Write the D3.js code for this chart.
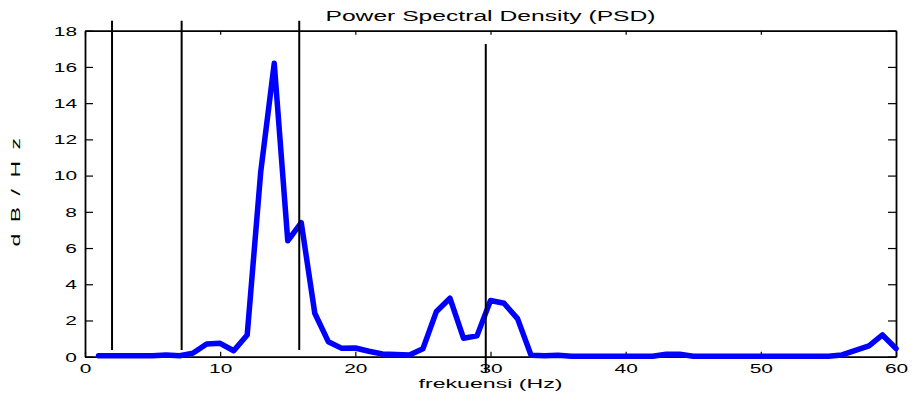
<!DOCTYPE html>
<html>
<head>
<meta charset="utf-8">
<script src="https://cdn.jsdelivr.net/npm/d3@7"></script>
<style>
  html, body { margin: 0; padding: 0; background: #fff; }
  svg { display: block; font-family: "Liberation Sans", Arial, Helvetica, sans-serif; }
</style>
</head>
<body>
<svg id="chart" width="912" height="396"></svg>
<script>
// PSD estimate, one value per 1 Hz bin (1..60 Hz)
const freqs = d3.range(1, 61);
const psd = [
  0.05, 0.05, 0.05, 0.05, 0.05, 0.1, 0.05, 0.2, 0.7, 0.74,
  0.33, 1.2, 10.2, 16.2, 6.4, 7.4, 2.4, 0.83, 0.46, 0.48,
  0.3, 0.15, 0.12, 0.1, 0.44, 2.5, 3.23, 1.02, 1.15, 3.1,
  2.95, 2.1, 0.08, 0.05, 0.08, 0.03, 0.02, 0.02, 0.02, 0.02,
  0.02, 0.03, 0.14, 0.14, 0.03, 0.02, 0.02, 0.02, 0.02, 0.02,
  0.02, 0.02, 0.02, 0.02, 0.03, 0.1, 0.35, 0.6, 1.2, 0.45
];

// Band boundary markers: frequency, lower and upper end (in dB/Hz units)
const markerFreq = [2, 7.15, 15.85, 29.65];
const markerLow  = [0.37, 0.37, 0.37, -0.85];
const markerHigh = [18.55, 18.55, 18.55, 17.26];

const xTicks = [0, 10, 20, 30, 40, 50, 60];
const yTicks = [0, 2, 4, 6, 8, 10, 12, 14, 16, 18];

const titleText = "Power Spectral Density (PSD)";
const xLabelText = "frekuensi (Hz)";
const yLabelText = "d B / H z";

const W = 912, H = 396;
const m = { left: 85, right: 16, top: 30.7, bottom: 39.3 };

const svg = d3.select("#chart");
const x = d3.scaleLinear().domain([0, 60]).range([m.left, W - m.right]);
const y = d3.scaleLinear().domain([0, 18]).range([H - m.bottom, m.top]);

const tickScale = 1.55;
const labelScale = 1.7;

// Axes with inward ticks on all four sides
const gB = svg.append("g").attr("transform", `translate(0,${y(0)})`)
  .call(d3.axisBottom(x).tickValues(xTicks).tickSizeInner(-5).tickSizeOuter(0).tickFormat(d3.format("d")));
gB.selectAll("text")
  .attr("y", 7).attr("dy", "0.71em")
  .attr("transform", `scale(${tickScale},1)`);

const gL = svg.append("g").attr("transform", `translate(${x(0)},0)`)
  .call(d3.axisLeft(y).tickValues(yTicks).tickSizeInner(-8).tickSizeOuter(0).tickFormat(d3.format("d")));
gL.selectAll("text")
  .attr("x", -8 / tickScale)
  .attr("transform", `scale(${tickScale},1)`);

svg.append("g").attr("transform", `translate(0,${y(18)})`)
  .call(d3.axisTop(x).tickValues(xTicks).tickSizeInner(-4).tickSizeOuter(0).tickFormat(""));
svg.append("g").attr("transform", `translate(${x(60)},0)`)
  .call(d3.axisRight(y).tickValues(yTicks).tickSizeInner(-8).tickSizeOuter(0).tickFormat(""));

svg.selectAll(".domain").attr("stroke", "#000").attr("stroke-width", 1.8);
svg.selectAll(".tick line").attr("stroke", "#000").attr("stroke-width", 1.2);
svg.selectAll(".tick text").attr("fill", "#000").attr("font-size", 13.5)
  .attr("font-family", "'Liberation Sans', Arial, sans-serif");

// PSD curve
const line = d3.line().x((d, i) => x(freqs[i])).y(d => y(d));
svg.append("path")
  .datum(psd)
  .attr("d", line)
  .attr("fill", "none")
  .attr("stroke", "#0000ff")
  .attr("stroke-width", 5.5)
  .attr("stroke-linejoin", "round")
  .attr("stroke-linecap", "round");

// Vertical band markers
svg.append("g").selectAll("line")
  .data(markerFreq)
  .join("line")
  .attr("x1", d => x(d)).attr("x2", d => x(d))
  .attr("y1", (d, i) => y(markerLow[i]))
  .attr("y2", (d, i) => y(markerHigh[i]))
  .attr("stroke", "#000")
  .attr("stroke-width", 2);

// Title and axis labels
svg.append("g").attr("transform", `translate(${(x(0) + x(60)) / 2},20.5) scale(${labelScale},1)`)
  .append("text").attr("text-anchor", "middle").attr("font-size", 14.5).attr("fill", "#000")
  .text(titleText);

svg.append("g").attr("transform", `translate(${(x(0) + x(60)) / 2},388) scale(1.78,1)`)
  .append("text").attr("text-anchor", "middle").attr("font-size", 13).attr("fill", "#000")
  .text(xLabelText);

svg.append("g").attr("transform", `translate(20,191) rotate(-90) scale(${labelScale},1)`)
  .append("text").attr("text-anchor", "middle").attr("font-size", 13.5).attr("fill", "#000")
  .attr("letter-spacing", 1.5)
  .text(yLabelText);
</script>
</body>
</html>
